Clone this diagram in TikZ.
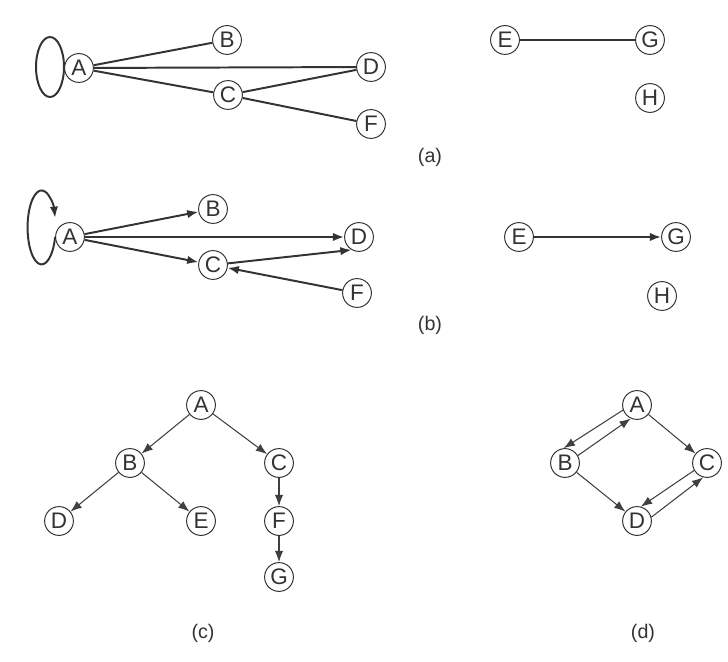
\documentclass[tikz,border=0pt]{standalone}
\usepackage{fontspec}
\setmainfont{Liberation Sans}
\usetikzlibrary{arrows.meta}

\tikzset{
  vertex/.style={circle, draw=black!80, line width=0.7pt, minimum size=0.72cm, inner sep=0pt,
    text=black!80, font=\fontsize{16}{18}\selectfont},
  caption/.style={text=black!80, font=\fontsize{14}{16}\selectfont},
  thick edge/.style={color=black!80, line width=1.4pt},
  thin edge/.style={color=black!75, line width=0.75pt},
  tip/.style={-{Latex[length=2.8mm,width=2.1mm]}}
}

\begin{document}
\begin{tikzpicture}[x=0.025cm, y=-0.025cm]
  \useasboundingbox (0,0) rectangle (728,662);

  % (a)
  \node[vertex] (aA) at (79,68) {A};
  \node[vertex] (aB) at (227,40) {B};
  \node[vertex] (aD) at (371,67) {D};
  \node[vertex] (aC) at (228,95) {C};
  \node[vertex] (aF) at (371,124) {F};
  \node[vertex] (aE) at (505,40) {E};
  \node[vertex] (aG) at (650,40) {G};
  \node[vertex] (aH) at (650,98) {H};
  \draw[thick edge] (50,67) ellipse [x radius=14, y radius=30];
  \path[thick edge]
  (aA) edge (aB)
       edge (aD)
       edge (aC)
  (aC) edge (aD)
       edge (aF)
  (aE) edge (aG)
  ;
  \node[caption] (capa) at (430,157) {(a)};

  % (b)
  \node[vertex] (bA) at (70,237) {A};
  \node[vertex] (bB) at (213,209) {B};
  \node[vertex] (bD) at (359,237) {D};
  \node[vertex] (bC) at (213,265) {C};
  \node[vertex] (bF) at (357,293) {F};
  \node[vertex] (bE) at (519,237) {E};
  \node[vertex] (bG) at (676,237) {G};
  \node[vertex] (bH) at (662,296) {H};
  \draw[thick edge, tip] (bA.west) arc [start angle=15, end angle=345, x radius=14, y radius=37];
  \path[thick edge, tip]
  (bA) edge (bB)
       edge (bD)
       edge (bC)
  (bC) edge (bD.240)
  (bF) edge (bC)
  (bE) edge (bG)
  ;
  \node[caption] (capb) at (430,325) {(b)};

  % (c)
  \node[vertex] (cA) at (201,405) {A};
  \node[vertex] (cB) at (130,463) {B};
  \node[vertex] (cC) at (279,463) {C};
  \node[vertex] (cD) at (59,521) {D};
  \node[vertex] (cE) at (201,521) {E};
  \node[vertex] (cF) at (279,521) {F};
  \node[vertex] (cG) at (279,577) {G};
  \path[thin edge, tip]
  (cA) edge (cB)
       edge (cC)
  (cB) edge (cD)
       edge (cE)
  (cC) edge (cF)
  (cF) edge (cG)
  ;
  \node[caption] (capc) at (203,633) {(c)};

  % (d)
  \node[vertex] (dA) at (637,405) {A};
  \node[vertex] (dB) at (565,463) {B};
  \node[vertex] (dC) at (707,463) {C};
  \node[vertex] (dD) at (637,521) {D};
  \path[thin edge, tip]
  (dA.200) edge (dB.95)
  (dB.30)  edge (dA.245)
  (dA) edge (dC)
  (dB) edge (dD)
  (dC.210) edge (dD.75)
  (dD.15)  edge (dC.255)
  ;
  \node[caption] (capd) at (643,633) {(d)};
\end{tikzpicture}
\end{document}
